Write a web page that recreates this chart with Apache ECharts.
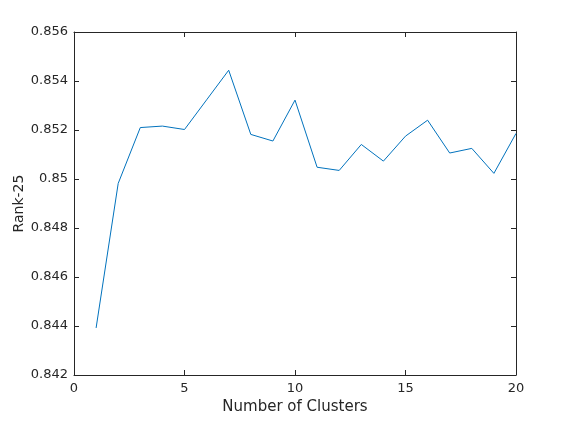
<!DOCTYPE html>
<html>
<head>
<meta charset="utf-8">
<script src="https://cdn.jsdelivr.net/npm/echarts@6/dist/echarts.min.js"></script>
<style>
  html, body { margin: 0; padding: 0; background: #fff; }
  #chart { width: 570px; height: 422px; }
</style>
</head>
<body>
<div id="chart"></div>
<script>
// number of clusters
const clusters = [1, 2, 3, 4, 5, 6, 7, 8, 9, 10, 11, 12, 13, 14, 15, 16, 17, 18, 19, 20];
// Rank-25 values
const rank25 = [0.84392, 0.84982, 0.85210, 0.85216, 0.85202, 0.85323, 0.85444, 0.85182, 0.85155, 0.85322,
                0.85048, 0.85035, 0.85141, 0.85073, 0.85175, 0.85240, 0.85106, 0.85125, 0.85023, 0.85186];

const textColor = "#262626";
const font = "DejaVu Sans";

const chart = echarts.init(document.getElementById("chart"));

// box axes (top/right) only carry the inside ticks
const boxAxis = {
  axisLine: { show: true, onZero: false, lineStyle: { color: textColor, width: 1 } },
  axisTick: { show: true, inside: true, length: 5, lineStyle: { color: textColor } },
  axisLabel: { show: false },
  splitLine: { show: false },
};

chart.setOption({
  animation: false,
  grid: { left: 74, right: 54, top: 32, bottom: 47, containLabel: false, outerBoundsMode: "none" },
  xAxis: [
    {
      type: "value",
      min: 0,
      max: 20,
      interval: 5,
      name: "Number of Clusters",
      nameLocation: "middle",
      nameGap: 25,
      nameTextStyle: { color: textColor, fontSize: 15, fontFamily: font },
      axisLine: { show: true, onZero: false, lineStyle: { color: textColor, width: 1 } },
      axisTick: { show: true, inside: true, length: 5, lineStyle: { color: textColor } },
      axisLabel: { color: textColor, fontSize: 13, fontFamily: font, margin: 7 },
      splitLine: { show: false },
    },
    Object.assign({ type: "value", position: "top", min: 0, max: 20, interval: 5 }, boxAxis),
  ],
  yAxis: [
    {
      type: "value",
      min: 0.842,
      max: 0.856,
      interval: 0.002,
      name: "Rank-25",
      nameLocation: "middle",
      nameGap: 48,
      nameMoveOverlap: false,
      nameTextStyle: { color: textColor, fontSize: 14, fontFamily: font },
      axisLine: { show: true, onZero: false, lineStyle: { color: textColor, width: 1 } },
      axisTick: { show: true, inside: true, length: 5, lineStyle: { color: textColor } },
      axisLabel: { color: textColor, fontSize: 13, fontFamily: font, margin: 6 },
      splitLine: { show: false },
    },
    Object.assign({ type: "value", position: "right", min: 0.842, max: 0.856, interval: 0.002 }, boxAxis),
  ],
  series: [
    {
      type: "line",
      data: clusters.map((c, i) => [c, rank25[i]]),
      showSymbol: false,
      lineStyle: { color: "#0072BD", width: 1 },
    },
  ],
});
</script>
</body>
</html>
